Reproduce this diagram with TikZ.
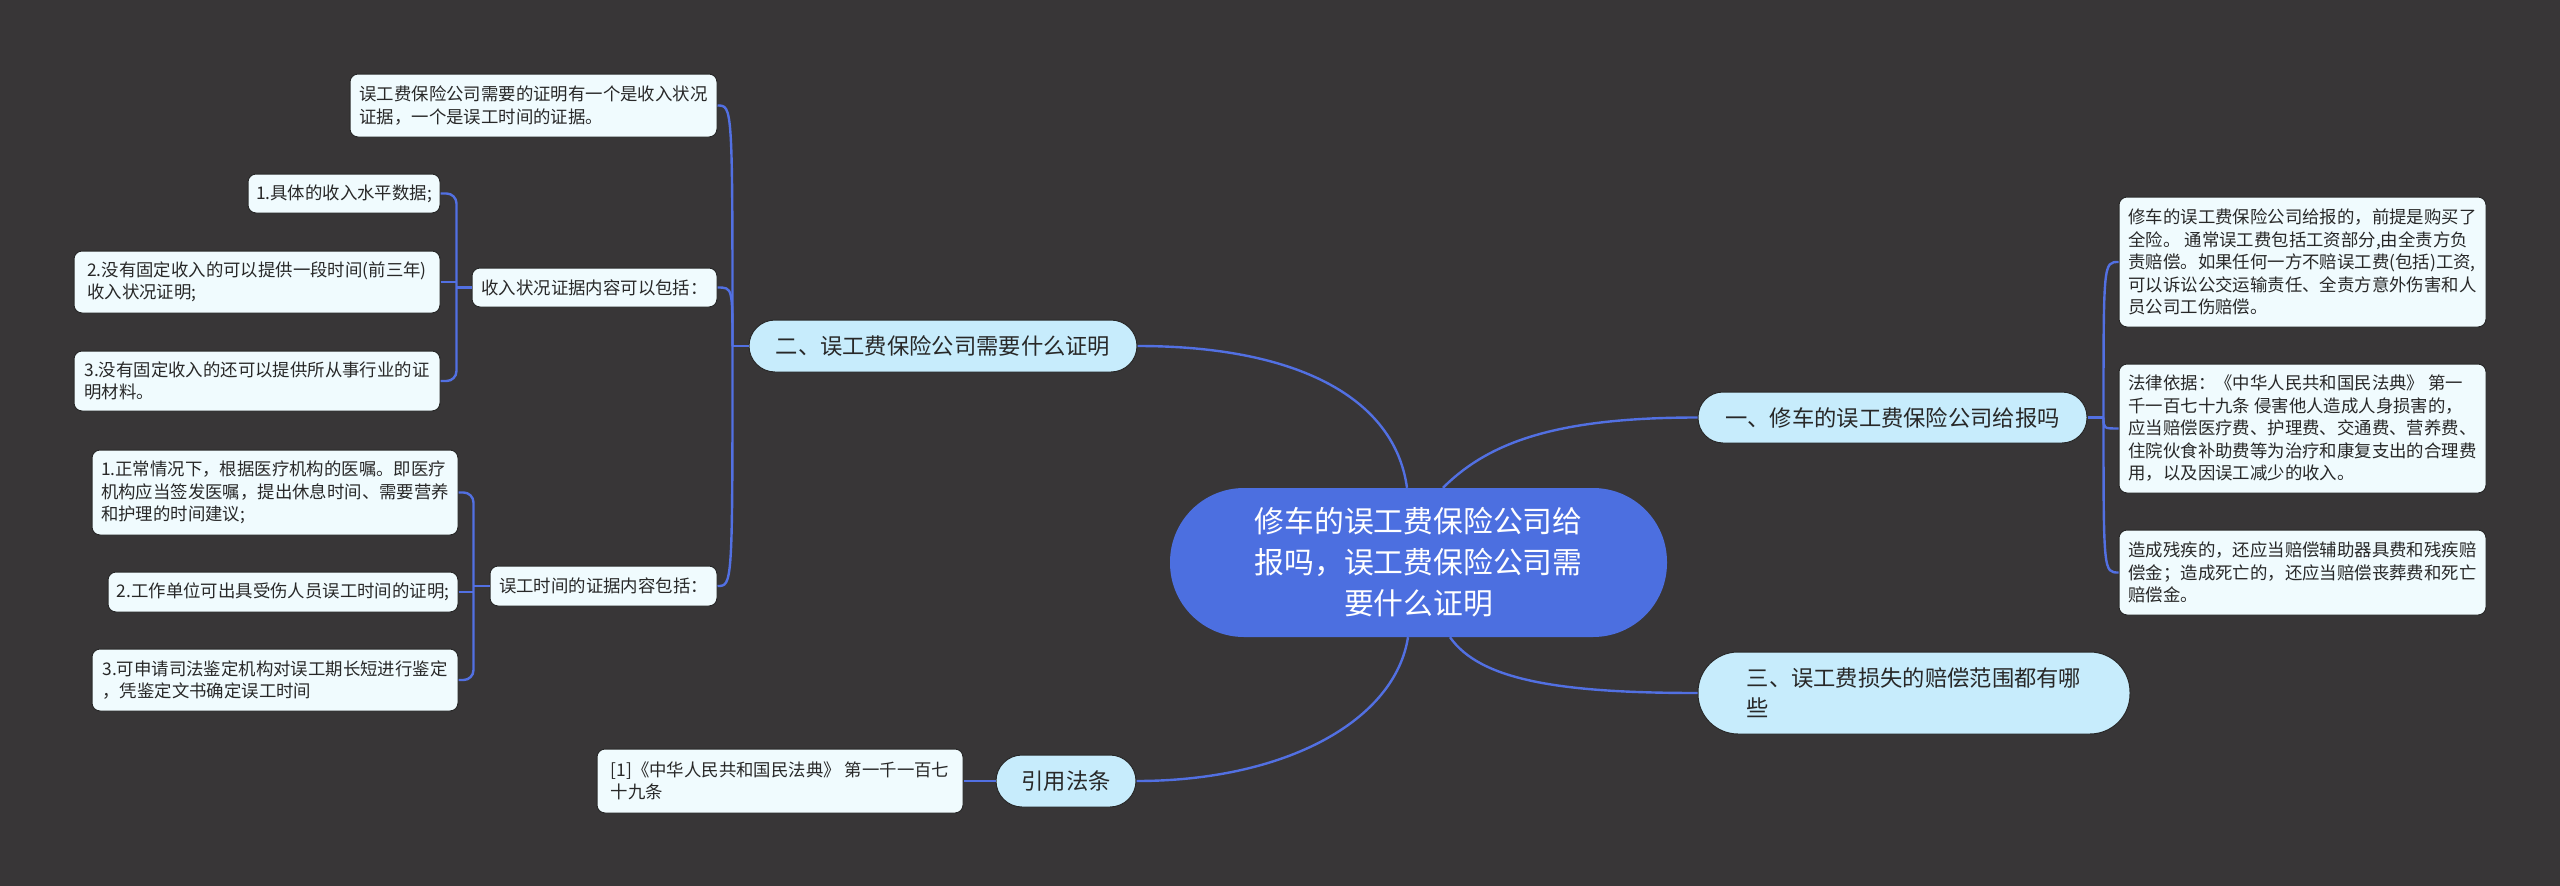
\documentclass[tikz,border=0pt]{standalone}
\usepackage{fontspec}
\setmainfont{Noto Sans CJK SC}
\usetikzlibrary{calc}
\definecolor{bg}{RGB}{56,54,55}
\definecolor{cblue}{RGB}{76,111,224}
\definecolor{bfill}{RGB}{199,236,252}
\definecolor{lfill}{RGB}{240,251,254}
\definecolor{edge}{RGB}{40,40,40}
\definecolor{lcol}{RGB}{82,112,226}
\definecolor{txt}{RGB}{40,40,40}
\begin{document}
\begin{tikzpicture}[x=1pt,y=-1pt,
  hub/.style={fill=cblue, text=white, align=center, inner sep=0pt, rounded corners=74pt,
    font=\fontsize{29.8}{41}\selectfont},
  branch/.style={fill=bfill, draw=edge, line width=1pt, text=txt, align=left, inner sep=0pt,
    font=\fontsize{22.3}{30}\selectfont},
  leaf/.style={fill=lfill, draw=edge, line width=1pt, text=txt, align=left, inner sep=0pt,
    rounded corners=8pt, font=\fontsize{17.4}{22.5}\selectfont},
  conn/.style={draw=lcol, line width=2.4pt}]
\fill[bg] (0,0) rectangle (2560,886);
\useasboundingbox (0,0) rectangle (2560,886);

% center
\node[hub, minimum width=497pt, minimum height=149pt] (c) at (1418.5,562.5)
  {修车的误工费保险公司给\\报吗，误工费保险公司需\\要什么证明};

% branches
\node[branch, rounded corners=25pt, minimum width=389pt, minimum height=51pt] (b1) at (1892.5,417.5)
  {一、修车的误工费保险公司给报吗};
\node[branch, rounded corners=26pt, minimum width=388pt, minimum height=52pt] (b2) at (943,346)
  {二、误工费保险公司需要什么证明};
\node[branch, rounded corners=40pt, minimum width=432pt, minimum height=82pt] (b3) at (1914,693)
  {三、误工费损失的赔偿范围都有哪\\些};
\node[branch, rounded corners=26pt, minimum width=140pt, minimum height=52pt] (b4) at (1066,781)
  {引用法条};

% right leaves
\node[leaf, minimum width=367pt, minimum height=130pt] (r1) at (2302.5,262)
  {修车的误工费保险公司给报的，前提是购买了\\全险。 通常误工费包括工资部分,由全责方负\\责赔偿。如果任何一方不赔误工费(包括)工资,\\可以诉讼公交运输责任、全责方意外伤害和人\\员公司工伤赔偿。};
\node[leaf, minimum width=367pt, minimum height=129pt] (r2) at (2302.5,428.5)
  {法律依据：《中华人民共和国民法典》 第一\\千一百七十九条 侵害他人造成人身损害的，\\应当赔偿医疗费、护理费、交通费、营养费、\\住院伙食补助费等为治疗和康复支出的合理费\\用，以及因误工减少的收入。};
\node[leaf, minimum width=367pt, minimum height=85pt] (r3) at (2302.5,572.5)
  {造成残疾的，还应当赔偿辅助器具费和残疾赔\\偿金；造成死亡的，还应当赔偿丧葬费和死亡\\赔偿金。};

% left side
\node[leaf, minimum width=367pt, minimum height=63pt] (ltop) at (533.5,105.5)
  {误工费保险公司需要的证明有一个是收入状况\\证据，一个是误工时间的证据。};
\node[leaf, minimum width=245pt, minimum height=39pt] (inc) at (594.5,287.5)
  {收入状况证据内容可以包括：};
\node[leaf, minimum width=227pt, minimum height=40pt] (tim) at (603.5,586)
  {误工时间的证据内容包括：};

\node[leaf, minimum width=192pt, minimum height=39pt] (l1) at (344,193.5)
  {1.具体的收入水平数据;};
\node[leaf, minimum width=366pt, minimum height=62pt] (l2) at (257,282)
  {2.没有固定收入的可以提供一段时间(前三年)\\收入状况证明;};
\node[leaf, minimum width=366pt, minimum height=60pt] (l3) at (257,381)
  {3.没有固定收入的还可以提供所从事行业的证\\明材料。};

\node[leaf, minimum width=366pt, minimum height=85pt] (t1) at (275,492.5)
  {1.正常情况下，根据医疗机构的医嘱。即医疗\\机构应当签发医嘱，提出休息时间、需要营养\\和护理的时间建议;};
\node[leaf, minimum width=350pt, minimum height=40pt] (t2) at (283,592)
  {2.工作单位可出具受伤人员误工时间的证明;};
\node[leaf, minimum width=366pt, minimum height=62pt] (t3) at (275,680)
  {3.可申请司法鉴定机构对误工期长短进行鉴定\\，凭鉴定文书确定误工时间};

\node[leaf, minimum width=366pt, minimum height=64pt] (cite) at (780,781)
  {[1]《中华人民共和国民法典》 第一千一百七\\十九条};

% center connectors
\draw[conn] ($(c.north)+(24.5,0)$) .. controls +(47,-47) and +(-138,0) .. (b1.west);
\draw[conn] ($(c.north)+(-11.5,0)$) .. controls +(-12,-88) and +(163,0) .. (b2.east);
\draw[conn] ($(c.south)+(31.5,0)$) .. controls +(30,43) and +(-138,0) .. (b3.west);
\draw[conn] ($(c.south)+(-10.5,0)$) .. controls +(-13,83) and +(150,0) .. (b4.east);

% branch 1 children
\coordinate (j1) at ($(b1.east)+(16,0)$);
\draw[conn] (b1.east) -- (j1);
\draw[conn] (j1) .. controls (j1 |- r1.west) .. (r1.west);
\draw[conn] (j1) .. controls (j1 |- r2.west) .. (r2.west);
\draw[conn] (j1) .. controls (j1 |- r3.west) .. (r3.west);

% branch 2 children
\coordinate (j2) at ($(b2.west)+(-16,0)$);
\draw[conn] (b2.west) -- (j2);
\draw[conn] (j2) .. controls (j2 |- ltop.east) .. (ltop.east);
\draw[conn] (j2) .. controls (j2 |- inc.east) .. (inc.east);
\draw[conn] (j2) .. controls (j2 |- tim.east) .. (tim.east);

% income children
\coordinate (ji) at ($(inc.west)+(-15,0)$);
\draw[conn] (inc.west) -- (ji);
\draw[conn, rounded corners=10pt] (l1.east) -| (ji) |- (l3.east);
\draw[conn] (l2.east) -- (l2.east -| ji);

% time children
\coordinate (jt) at ($(tim.west)+(-16,0)$);
\draw[conn] (tim.west) -- (jt);
\draw[conn, rounded corners=10pt] (t1.east) -| (jt) |- (t3.east);
\draw[conn] (t2.east) -- (t2.east -| jt);

% citation
\draw[conn] (b4.west) -- (cite.east);
\end{tikzpicture}
\end{document}
